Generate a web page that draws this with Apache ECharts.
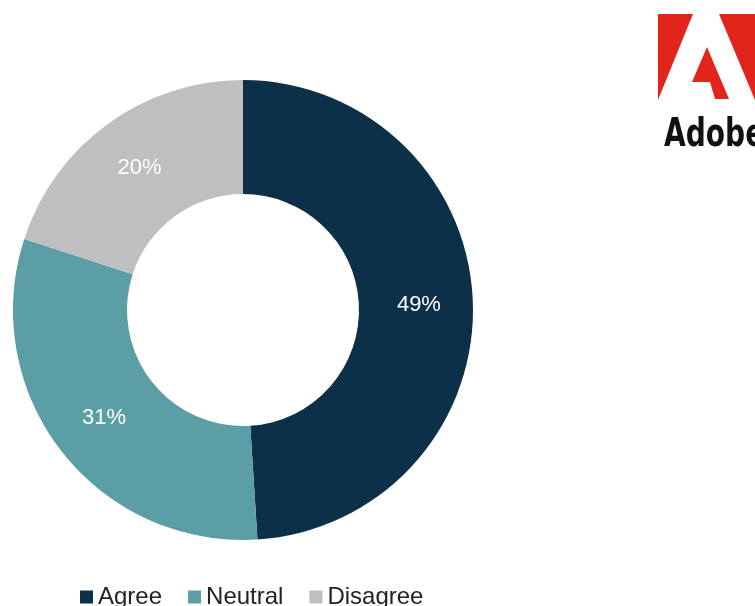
<!DOCTYPE html>
<html>
<head>
<meta charset="utf-8">
<script src="https://cdn.jsdelivr.net/npm/echarts@6/dist/echarts.min.js"></script>
<style>
  html, body { margin: 0; padding: 0; background: #fff; }
  #chart { width: 755px; height: 606px; }
</style>
</head>
<body>
<div id="chart"></div>
<script>
var categories = ['Agree', 'Neutral', 'Disagree'];
var values = [49, 31, 20];
var colors = ['#0b3048', '#5b9ea6', '#bfbfbf'];

var pieData = [];
for (var i = 0; i < categories.length; i++) {
    pieData.push({ name: categories[i], value: values[i], itemStyle: { color: colors[i] } });
}

var red = '#e1251b';
var option = {
    animation: false,
    textStyle: { fontFamily: '"Liberation Sans", Arial, sans-serif' },
    legend: {
        data: categories,
        left: 75,
        top: 580,
        itemWidth: 13,
        itemHeight: 13,
        itemGap: 26,
        icon: 'rect',
        textStyle: { fontSize: 24, color: '#222' }
    },
    series: [{
        type: 'pie',
        center: [243, 310],
        radius: [116, 230],
        startAngle: 90,
        clockwise: true,
        silent: true,
        label: {
            position: 'inside',
            formatter: '{c}%',
            color: '#fff',
            fontSize: 22
        },
        labelLine: { show: false },
        data: pieData
    }],
    // Adobe logo, top right
    graphic: [
        { type: 'polygon', shape: { points: [[658, 14], [693, 14], [658, 100]] }, style: { fill: red } },
        { type: 'polygon', shape: { points: [[719, 14], [760, 14], [760, 100], [755, 100]] }, style: { fill: red } },
        { type: 'polygon', shape: { points: [[707, 47], [692, 82], [710, 82], [715, 99], [729, 99]] }, style: { fill: red } },
        {
            type: 'text',
            x: 664,
            y: 136,
            scaleX: 0.8,
            style: {
                text: 'Adobe',
                x: 0,
                y: 0,
                textVerticalAlign: 'middle',
                font: 'bold 39px "Liberation Sans Narrow", "DejaVu Sans Condensed", sans-serif',
                fill: '#111'
            }
        }
    ]
};
var myChart = echarts.init(document.getElementById('chart'));
myChart.setOption(option);
</script>
</body>
</html>
